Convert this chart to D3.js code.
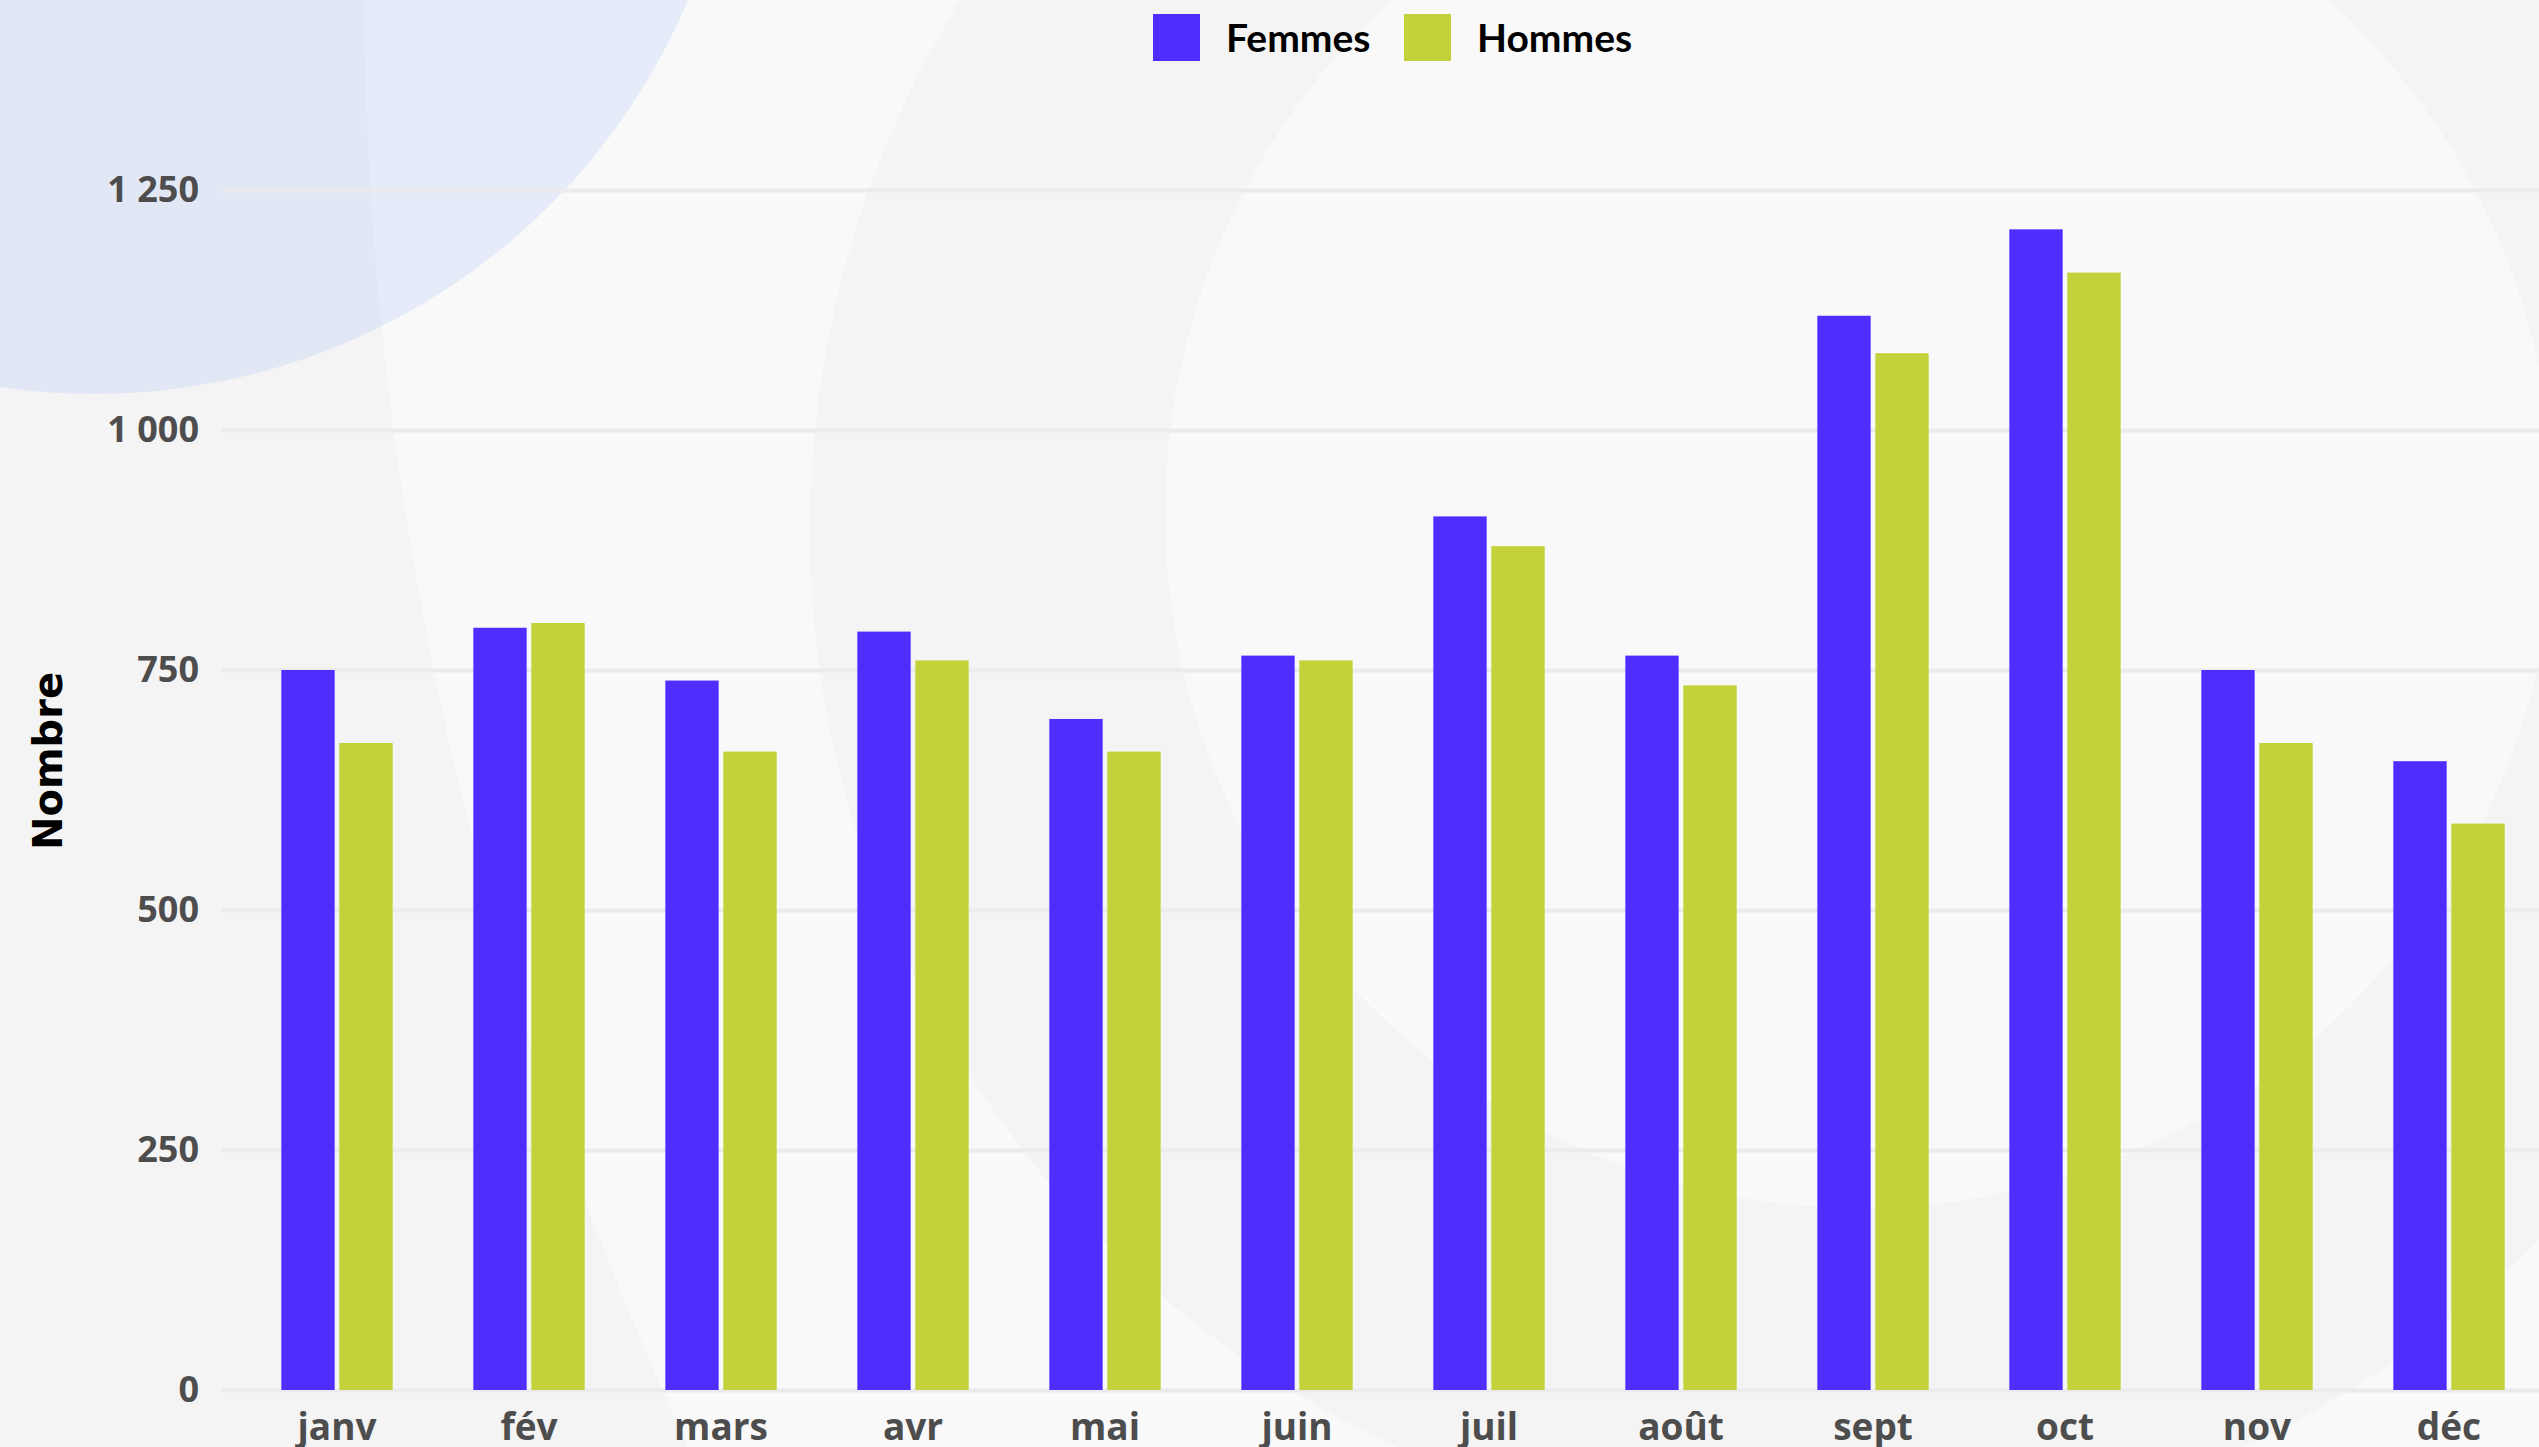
<!DOCTYPE html>
<html>
<head>
<meta charset="utf-8">
<script src="https://cdn.jsdelivr.net/npm/d3@7"></script>
<style>
  html, body { margin: 0; padding: 0; background: #f4f4f4; overflow: hidden; }
  svg { display: block; }
</style>
</head>
<body>
<div id="chart"></div>
<script>
// data
const months = ["janv", "fév", "mars", "avr", "mai", "juin", "juil", "août", "sept", "oct", "nov", "déc"];
const femmes = [750, 794, 739, 790, 699, 765, 910, 765, 1119, 1209, 750, 655];
const hommes = [674, 799, 665, 760, 665, 760, 879, 734, 1080, 1164, 674, 590];
const seriesNames = ["Femmes", "Hommes"];
const seriesColors = ["#502dff", "#c3d23b"];
const yTicks = [0, 250, 500, 750, 1000, 1250];
const yTitle = "Nombre";

const W = 2539, H = 1447;

let svg = d3.select("#chart")
    .append("svg")
    .attr("width", W)
    .attr("height", H);

// decorative background circles
svg.append("rect").attr("width", W).attr("height", H).attr("fill", "#f4f4f4");
svg.append("circle").attr("cx", 3874).attr("cy", -26).attr("r", 3510).attr("fill", "#f9f9f9");
svg.append("circle").attr("cx", 1820).attr("cy", 530).attr("r", 1010).attr("fill", "#f4f4f4");
svg.append("circle").attr("cx", 1860).attr("cy", 513).attr("r", 695).attr("fill", "#f9f9f9");
svg.append("circle").attr("cx", 94).attr("cy", -251).attr("r", 645)
    .attr("fill", "#9ab3f9").attr("fill-opacity", 0.2);

let plotLeft = 222, plotTop = 190, plotBottom = 1390;

let y = d3.scaleLinear()
    .domain([0, 1250])
    .range([plotBottom, plotTop]);

let x0 = d3.scaleBand()
    .domain(months)
    .range([241, 2545])
    .paddingInner(0.42)
    .paddingOuter(0.21);

let x1 = d3.scaleBand()
    .domain(seriesNames)
    .range([0, x0.bandwidth()])
    .paddingInner(0.08);

let fr = d3.formatLocale({decimal: ",", thousands: " ", grouping: [3], currency: ["", " €"]});

// y axis + grid
let yAxis = svg.append("g")
    .attr("transform", "translate(" + plotLeft + ",0)")
    .call(d3.axisLeft(y)
        .tickValues(yTicks)
        .tickSize(-(W - plotLeft))
        .tickPadding(23)
        .tickFormat(fr.format(",d")));
yAxis.select(".domain").remove();
yAxis.selectAll(".tick line")
    .attr("stroke", "#ebebeb")
    .attr("stroke-width", 4);
yAxis.selectAll(".tick text")
    .attr("fill", "#4d4d4d")
    .attr("font-family", "'Open Sans', sans-serif")
    .attr("font-weight", 700)
    .attr("font-size", 36);

// bars
let rows = months.map((m, i) => ({month: m, values: [femmes[i], hommes[i]]}));

let groups = svg.append("g")
    .selectAll("g")
    .data(rows)
    .join("g")
    .attr("transform", d => "translate(" + x0(d.month) + ",0)");

groups.selectAll("rect")
    .data(d => d.values.map((v, k) => ({key: seriesNames[k], value: v, color: seriesColors[k]})))
    .join("rect")
    .attr("x", d => x1(d.key))
    .attr("y", d => y(d.value))
    .attr("width", x1.bandwidth())
    .attr("height", d => y(0) - y(d.value))
    .attr("fill", d => d.color);

// x axis
let xAxis = svg.append("g")
    .attr("transform", "translate(0," + plotBottom + ")")
    .call(d3.axisBottom(x0).tickSize(0).tickPadding(24));
xAxis.select(".domain").remove();
xAxis.selectAll(".tick text")
    .attr("fill", "#4d4d4d")
    .attr("font-family", "'Open Sans', sans-serif")
    .attr("font-weight", 700)
    .attr("font-size", 37);

// y title
svg.append("text")
    .attr("transform", "translate(62,761) rotate(-90)")
    .attr("text-anchor", "middle")
    .attr("font-family", "'DejaVu Sans', sans-serif")
    .attr("font-weight", 700)
    .attr("font-size", 40)
    .attr("fill", "#000")
    .text(yTitle);

// legend
let legendX = [1153, 1404];
let legend = svg.append("g")
    .selectAll("g")
    .data(seriesNames)
    .join("g")
    .attr("transform", (d, i) => "translate(" + legendX[i] + ",14)");
legend.append("rect")
    .attr("width", 47)
    .attr("height", 47)
    .attr("fill", (d, i) => seriesColors[i]);
legend.append("text")
    .attr("x", 73)
    .attr("y", 38)
    .attr("font-family", "Lato, sans-serif")
    .attr("font-weight", 700)
    .attr("font-size", 39)
    .attr("fill", "#000")
    .text(d => d);
</script>
</body>
</html>
